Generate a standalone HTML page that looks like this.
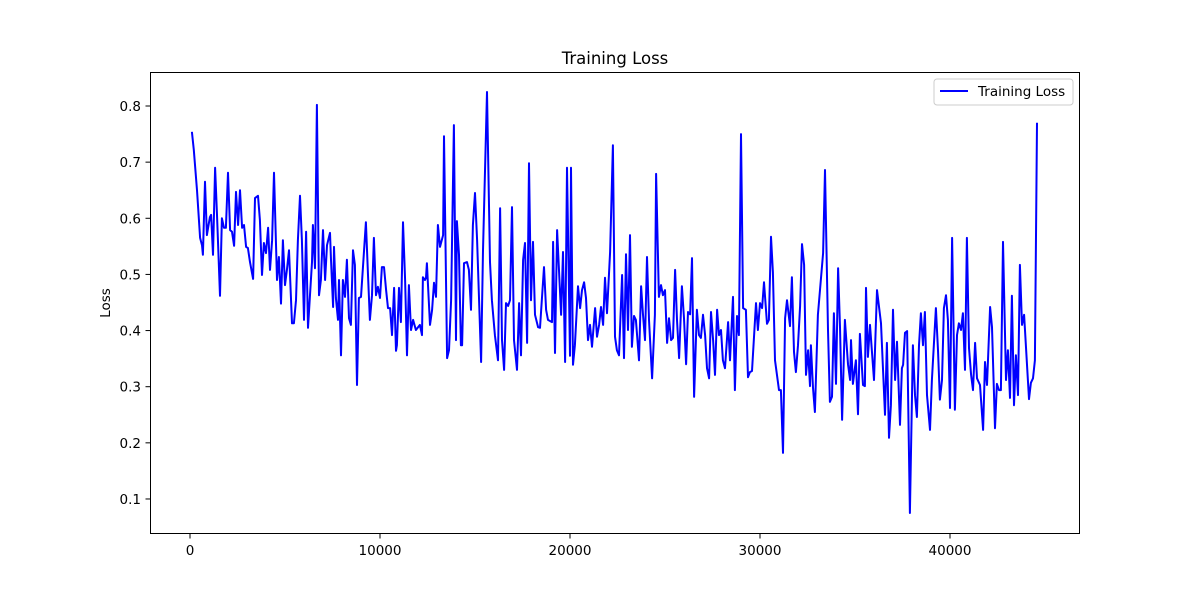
<!DOCTYPE html>
<html><head><meta charset="utf-8"><style>
body{margin:0;background:#fff}
svg{display:block;font-family:"DejaVu Sans","Liberation Sans",sans-serif}
</style></head><body>
<svg id="chart" width="1200" height="600" viewBox="0 0 1200 600" xmlns="http://www.w3.org/2000/svg">
<rect width="1200" height="600" fill="#fff"/>
<text x="615" y="64" text-anchor="middle" font-size="16.5">Training Loss</text>
<text transform="translate(110,303) rotate(-90)" text-anchor="middle" font-size="13.5">Loss</text>
<g id="ticks"></g>
<polyline id="line" fill="none" stroke="#0000ff" stroke-width="2" stroke-linejoin="round"/>
<rect x="150.5" y="72.5" width="929" height="461" fill="none" stroke="#000" stroke-width="1"/>
<g>
<rect x="934" y="79" width="139" height="26" rx="3" fill="#fff" stroke="#ccc"/>
<line x1="940" y1="91" x2="968" y2="91" stroke="#0000ff" stroke-width="2"/>
<text x="978" y="96" font-size="13.5">Training Loss</text>
</g>
</svg>
<script>
const steps=[100,200,370,530,630,680,790,890,950,1050,1110,1210,1320,1420,1580,1680,1790,1890,2000,2110,2210,2320,2420,2530,2630,2740,2840,2950,3050,3160,3320,3420,3580,3680,3790,3890,4000,4110,4210,4320,4420,4580,4680,4790,4890,5000,5110,5210,5370,5470,5580,5680,5790,5890,6000,6110,6210,6420,6470,6580,6680,6790,6890,7000,7110,7210,7370,7420,7530,7580,7680,7790,7840,7950,8050,8160,8260,8370,8470,8580,8680,8790,8890,9000,9110,9260,9370,9470,9580,9680,9790,9890,10000,10100,10210,10320,10420,10530,10630,10740,10840,10890,11000,11100,11210,11320,11420,11520,11630,11740,11890,12100,12210,12260,12370,12420,12470,12630,12740,12840,12950,13050,13160,13320,13370,13530,13630,13740,13890,14000,14050,14160,14260,14320,14420,14580,14680,14790,14890,15000,15110,15320,15420,15630,15790,15890,16050,16210,16320,16420,16530,16630,16740,16840,16950,17050,17210,17320,17420,17530,17630,17740,17840,17950,18050,18160,18320,18420,18630,18740,18840,19050,19110,19210,19320,19530,19630,19740,19840,20000,20050,20160,20260,20420,20530,20630,20740,20840,20950,21050,21160,21320,21420,21530,21630,21740,21840,21950,22110,22260,22370,22470,22580,22740,22840,22950,23050,23160,23260,23370,23470,23630,23740,23840,23950,24050,24160,24320,24470,24530,24680,24790,24890,25000,25110,25210,25320,25420,25530,25630,25740,25890,26000,26110,26210,26320,26420,26530,26680,26790,26890,27000,27110,27210,27320,27420,27530,27630,27740,27840,27950,28050,28160,28320,28420,28580,28680,28790,28890,29000,29110,29260,29370,29470,29580,29790,29890,30000,30110,30210,30370,30470,30580,30680,30790,31000,31100,31210,31320,31420,31580,31680,31790,31890,32000,32110,32210,32320,32420,32530,32630,32680,32790,32890,33050,33320,33420,33580,33680,33790,33890,34000,34110,34210,34320,34470,34630,34740,34790,34890,35050,35160,35260,35420,35520,35580,35680,35790,36000,36160,36260,36370,36580,36680,36790,36890,37000,37110,37210,37370,37470,37530,37630,37740,37890,38050,38160,38260,38370,38470,38580,38680,38790,38950,39050,39260,39370,39470,39580,39680,39790,39890,40000,40110,40260,40370,40470,40580,40680,40790,40890,41000,41110,41210,41320,41420,41580,41740,41840,41950,42110,42210,42370,42470,42580,42680,42790,42950,43050,43160,43260,43370,43470,43580,43680,43790,43900,44160,44260,44370,44470,44580];
const losses=[0.754,0.722,0.650,0.565,0.552,0.535,0.665,0.570,0.583,0.602,0.606,0.535,0.690,0.606,0.462,0.600,0.583,0.583,0.681,0.579,0.576,0.551,0.647,0.588,0.650,0.583,0.588,0.549,0.547,0.522,0.492,0.636,0.640,0.597,0.499,0.556,0.538,0.583,0.508,0.561,0.681,0.490,0.531,0.448,0.561,0.481,0.511,0.543,0.413,0.413,0.454,0.561,0.640,0.561,0.419,0.576,0.405,0.522,0.588,0.511,0.802,0.463,0.490,0.579,0.490,0.552,0.574,0.526,0.442,0.549,0.458,0.419,0.490,0.356,0.490,0.460,0.526,0.422,0.410,0.543,0.517,0.303,0.458,0.460,0.517,0.593,0.499,0.419,0.463,0.565,0.463,0.478,0.458,0.513,0.513,0.472,0.440,0.440,0.392,0.476,0.364,0.374,0.476,0.415,0.593,0.490,0.356,0.481,0.401,0.419,0.401,0.410,0.392,0.495,0.490,0.494,0.520,0.410,0.437,0.485,0.460,0.588,0.549,0.570,0.746,0.351,0.365,0.454,0.766,0.383,0.595,0.535,0.374,0.374,0.520,0.522,0.508,0.437,0.588,0.645,0.561,0.344,0.543,0.825,0.522,0.454,0.392,0.347,0.618,0.383,0.330,0.449,0.444,0.454,0.620,0.383,0.330,0.449,0.356,0.526,0.556,0.378,0.698,0.454,0.558,0.428,0.406,0.405,0.513,0.437,0.419,0.415,0.558,0.360,0.579,0.428,0.540,0.344,0.690,0.355,0.690,0.339,0.374,0.479,0.440,0.472,0.486,0.458,0.383,0.410,0.371,0.440,0.389,0.410,0.442,0.410,0.494,0.431,0.540,0.730,0.389,0.365,0.356,0.499,0.351,0.536,0.401,0.570,0.371,0.426,0.419,0.347,0.479,0.428,0.383,0.531,0.419,0.315,0.428,0.679,0.460,0.481,0.463,0.472,0.378,0.422,0.383,0.387,0.508,0.419,0.351,0.479,0.422,0.340,0.433,0.429,0.529,0.282,0.437,0.392,0.387,0.428,0.392,0.333,0.315,0.433,0.383,0.321,0.437,0.392,0.401,0.347,0.333,0.415,0.347,0.460,0.294,0.426,0.392,0.750,0.440,0.437,0.317,0.326,0.328,0.449,0.401,0.449,0.440,0.486,0.412,0.419,0.567,0.504,0.347,0.294,0.294,0.182,0.422,0.454,0.408,0.495,0.362,0.326,0.374,0.444,0.554,0.517,0.321,0.365,0.301,0.374,0.298,0.255,0.428,0.538,0.686,0.401,0.273,0.282,0.431,0.305,0.511,0.406,0.241,0.419,0.340,0.312,0.383,0.305,0.347,0.251,0.394,0.303,0.301,0.476,0.353,0.410,0.312,0.472,0.444,0.413,0.250,0.378,0.209,0.267,0.437,0.312,0.380,0.232,0.333,0.339,0.396,0.399,0.075,0.374,0.285,0.246,0.374,0.431,0.374,0.433,0.285,0.223,0.312,0.440,0.365,0.277,0.312,0.440,0.463,0.419,0.262,0.565,0.259,0.392,0.413,0.401,0.431,0.330,0.565,0.369,0.321,0.294,0.378,0.315,0.303,0.223,0.344,0.303,0.442,0.406,0.226,0.305,0.294,0.294,0.558,0.312,0.365,0.280,0.462,0.267,0.356,0.285,0.517,0.410,0.428,0.278,0.307,0.315,0.347,0.770];
const xTicks=[0,10000,20000,30000,40000];
const yTicks=[0.1,0.2,0.3,0.4,0.5,0.6,0.7,0.8];

const NS="http://www.w3.org/2000/svg";
function xs(v){return 190+v*0.019;}
function ys(v){return 106+(0.8-v)*561.4;}
const g=document.getElementById('ticks');
xTicks.forEach(t=>{
  const l=document.createElementNS(NS,'line');
  
  
  l.setAttribute('x1',xs(t));l.setAttribute('x2',xs(t));l.setAttribute('y1',534);l.setAttribute('y2',538.5);l.setAttribute('stroke','#000');
  g.appendChild(l);
  const tx=document.createElementNS(NS,'text');
  
  
  tx.setAttribute('x',xs(t));tx.setAttribute('y',555);tx.setAttribute('text-anchor','middle');tx.setAttribute('font-size','13.5');
  tx.textContent=t;g.appendChild(tx);
});
yTicks.forEach(t=>{
  const l=document.createElementNS(NS,'line');
  
  
  l.setAttribute('x1',145.5);l.setAttribute('x2',150);l.setAttribute('y1',ys(t));l.setAttribute('y2',ys(t));l.setAttribute('stroke','#000');
  g.appendChild(l);
  const tx=document.createElementNS(NS,'text');
  
  
  tx.setAttribute('x',141);tx.setAttribute('y',ys(t)+5);tx.setAttribute('text-anchor','end');tx.setAttribute('font-size','13.5');
  tx.textContent=t.toFixed(1);g.appendChild(tx);
});
document.getElementById('line').setAttribute('points',steps.map((s,i)=>xs(s).toFixed(1)+','+ys(losses[i]).toFixed(1)).join(' '));
</script>
</body></html>
